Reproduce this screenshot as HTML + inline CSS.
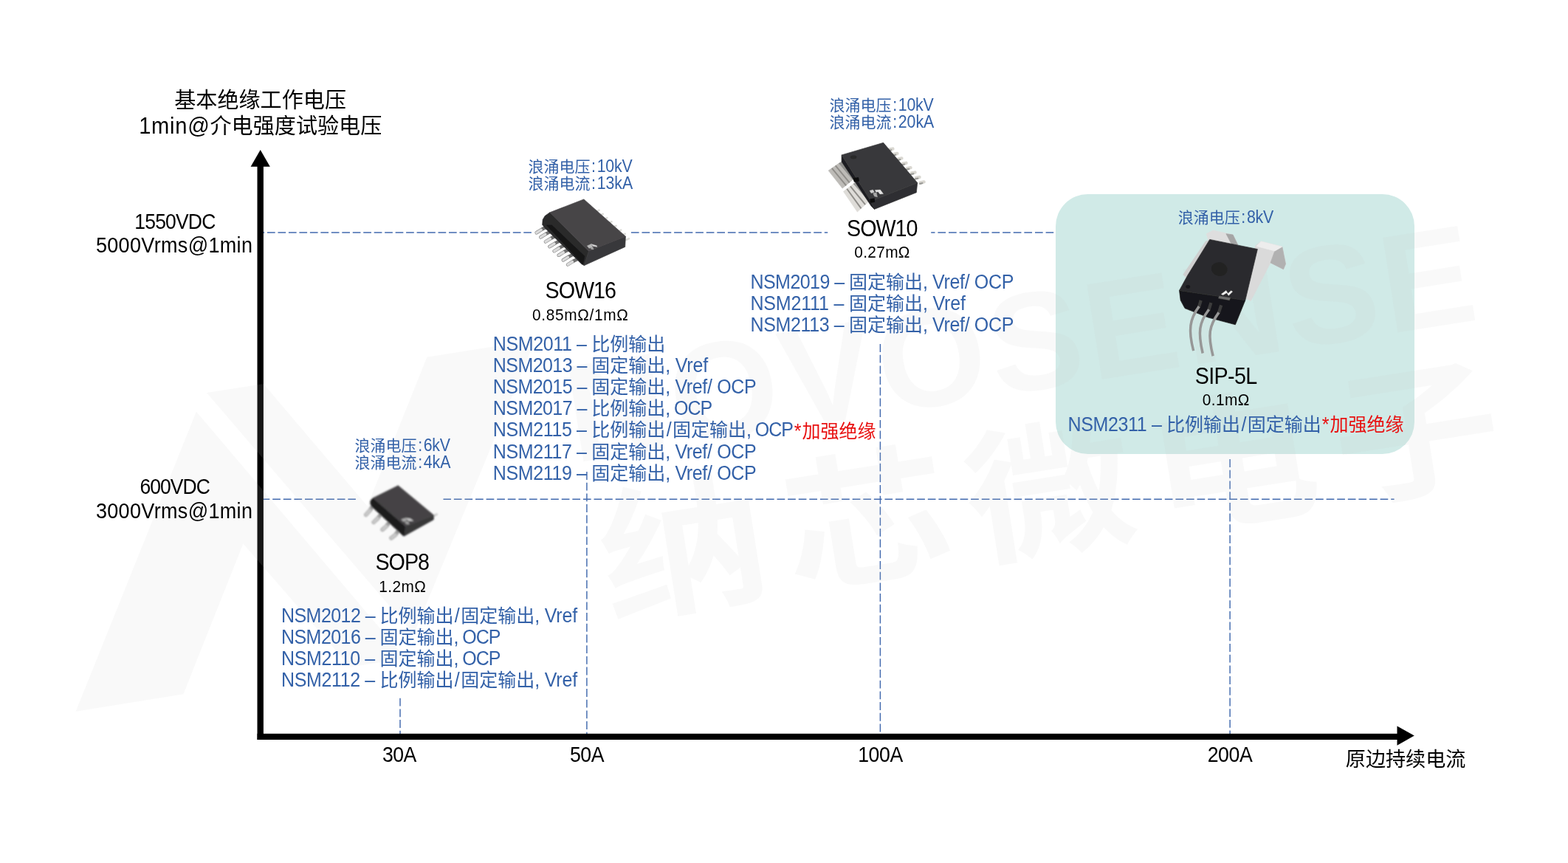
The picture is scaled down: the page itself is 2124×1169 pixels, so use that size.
<!DOCTYPE html>
<html lang="zh-CN">
<head>
<meta charset="utf-8">
<title>NSM 电流传感器产品选型图</title>
<style>
html,body{margin:0;padding:0;background:#fff}
body{width:2124px;height:1169px;font-family:"Liberation Sans", "Noto Sans CJK SC", sans-serif}
.stage{position:relative;width:2124px;height:1169px;overflow:hidden;background:#fff}
.abs{position:absolute;left:0;top:0}
.txt{position:absolute;left:0;top:0;width:2124px;height:1169px;will-change:transform}
.t{position:absolute;white-space:pre;font-family:"Liberation Sans", "Noto Sans CJK SC", sans-serif;font-weight:400}
.t .l{display:inline-block;line-height:1;transform:scaleY(1.087);transform-origin:0 calc(100% - .1535em)}
.t .p{text-align:center}
.t .rs{position:relative;top:1.6px;left:.8px}
.k{color:#000}
.b{color:#3361a8}
.r{color:#e81010}
.wm{position:absolute;left:0;top:0;width:2124px;height:1169px;overflow:hidden;pointer-events:none}
.ws{position:absolute;left:0;top:0;width:2124px;height:1169px;background:rgba(200,200,200,.115)}
.wt{position:absolute;white-space:pre;line-height:0;height:0;color:rgba(200,200,200,.115);font-family:"Liberation Sans", "Noto Sans CJK SC", sans-serif}
.box{position:absolute;left:1430px;top:262.6px;width:485.6px;height:352px;border-radius:43.5px;background:#d0eae7}
</style>
</head>
<body>
<div class="stage">
<div class="box"></div>
<svg class="abs" width="2124" height="1169" viewBox="0 0 2124 1169">
<g stroke="#4169ae" stroke-width="1.45" fill="none">
<line x1="356.5" y1="314.9" x2="719.9" y2="314.9" stroke-dasharray="10.7 3.77" stroke-dashoffset="8.97"/>
<line x1="854.9" y1="314.9" x2="1121.2" y2="314.9" stroke-dasharray="10.7 3.85" stroke-dashoffset="0.00"/>
<line x1="1261.2" y1="314.9" x2="1427.2" y2="314.9" stroke-dasharray="10.7 3.92" stroke-dashoffset="5.42"/>
<line x1="356.5" y1="676.2" x2="481.9" y2="676.2" stroke-dasharray="10.7 3.90" stroke-dashoffset="1.90"/>
<line x1="600.5" y1="676.2" x2="1888.6" y2="676.2" stroke-dasharray="10.7 3.89" stroke-dashoffset="0.24"/>
<g stroke-dasharray="10.9 3.8"><line x1="542.0" y1="945.7" x2="542.0" y2="994.5" stroke-dashoffset="0.00"/><line x1="794.9" y1="639.0" x2="794.9" y2="994.5" stroke-dashoffset="0.00"/><line x1="1192.4" y1="466.0" x2="1192.4" y2="994.5" stroke-dashoffset="0.00"/><line x1="1666.1" y1="622.1" x2="1666.1" y2="994.5" stroke-dashoffset="0.00"/></g>
</g>
<g fill="#000">
<rect x="348.5" y="225" width="8.4" height="777"/>
<rect x="348.5" y="993.8" width="1545" height="8.2"/>
<polygon points="352.7,203.1 365.8,225.8 339.6,225.8"/>
<polygon points="1915.8,996.6 1892.5,983.4 1892.5,1009.8"/>
</g>
</svg>
<div class="wm">
<div class="ws" style="clip-path:polygon(102.6px 963.8px, 265.9px 557.6px, 549.5px 892.0px, 474.5px 903.5px, 329.4px 736.5px, 248.5px 940.2px)"></div>
<div class="ws" style="clip-path:polygon(280.0px 532.0px, 357.0px 520.0px, 497.6px 685.5px, 578.3px 483.8px, 725.0px 460.5px, 560.5px 859.3px)"></div>
<div class="wt en" style="left:778.4px;top:561.8px;font-size:189px;letter-spacing:5.7px;font-weight:700;transform-origin:0 65.5px;transform:rotate(-9.0deg) scaleX(1)">NOVOSENSE</div>
<div class="wt cn" style="left:824.5px;top:764.5px;font-size:196px;letter-spacing:21.2px;font-weight:700;transform-origin:0 68.0px;transform:rotate(-9.0deg) scaleX(1.157)">纳芯微电子</div>
</div>
<svg class="abs" width="2124" height="1169" viewBox="0 0 2124 1169">
<defs><filter id="sb" x="-10%" y="-10%" width="120%" height="120%"><feGaussianBlur stdDeviation="0.6"/></filter><filter id="sb2" x="-10%" y="-10%" width="120%" height="120%"><feGaussianBlur stdDeviation="0.85"/></filter></defs>
<g filter="url(#sb)">
<line x1="807.9" y1="286.4" x2="811.6" y2="284.8" stroke="#dcdcd8" stroke-width="2.6" stroke-linecap="round"/>
<line x1="813.1" y1="291.5" x2="816.7" y2="289.9" stroke="#dcdcd8" stroke-width="2.6" stroke-linecap="round"/>
<line x1="818.7" y1="296.7" x2="822.4" y2="295.1" stroke="#dcdcd8" stroke-width="2.6" stroke-linecap="round"/>
<line x1="824.8" y1="301.9" x2="828.5" y2="300.3" stroke="#dcdcd8" stroke-width="2.6" stroke-linecap="round"/>
<line x1="830.9" y1="307.5" x2="834.6" y2="305.9" stroke="#dcdcd8" stroke-width="2.6" stroke-linecap="round"/>
<line x1="837.5" y1="313.2" x2="841.2" y2="311.6" stroke="#dcdcd8" stroke-width="2.6" stroke-linecap="round"/>
<line x1="843.2" y1="318.4" x2="846.8" y2="316.8" stroke="#dcdcd8" stroke-width="2.6" stroke-linecap="round"/>
<line x1="848.4" y1="324.9" x2="852.0" y2="323.3" stroke="#dcdcd8" stroke-width="2.6" stroke-linecap="round"/>
<polyline points="726.8,315.2 734.5,310.4 745.3,305.0" fill="none" stroke="#6f6f6f" stroke-width="4.6" stroke-linecap="round" stroke-linejoin="round"/>
<line x1="726.8" y1="315.2" x2="733.1" y2="311.3" stroke="#dadada" stroke-width="3.6" stroke-linecap="round"/>
<polyline points="732.4,321.3 740.1,316.5 750.9,311.1" fill="none" stroke="#6f6f6f" stroke-width="4.6" stroke-linecap="round" stroke-linejoin="round"/>
<line x1="732.4" y1="321.3" x2="738.7" y2="317.4" stroke="#dadada" stroke-width="3.6" stroke-linecap="round"/>
<polyline points="739.0,327.4 746.7,322.6 757.5,317.2" fill="none" stroke="#6f6f6f" stroke-width="4.6" stroke-linecap="round" stroke-linejoin="round"/>
<line x1="739.0" y1="327.4" x2="745.3" y2="323.5" stroke="#dadada" stroke-width="3.6" stroke-linecap="round"/>
<polyline points="744.6,334.0 752.4,329.2 763.2,323.8" fill="none" stroke="#6f6f6f" stroke-width="4.6" stroke-linecap="round" stroke-linejoin="round"/>
<line x1="744.6" y1="334.0" x2="750.9" y2="330.1" stroke="#dadada" stroke-width="3.6" stroke-linecap="round"/>
<polyline points="750.8,340.1 758.5,335.3 769.3,329.9" fill="none" stroke="#6f6f6f" stroke-width="4.6" stroke-linecap="round" stroke-linejoin="round"/>
<line x1="750.8" y1="340.1" x2="757.1" y2="336.2" stroke="#dadada" stroke-width="3.6" stroke-linecap="round"/>
<polyline points="756.9,345.7 764.6,340.9 775.4,335.6" fill="none" stroke="#6f6f6f" stroke-width="4.6" stroke-linecap="round" stroke-linejoin="round"/>
<line x1="756.9" y1="345.7" x2="763.2" y2="341.9" stroke="#dadada" stroke-width="3.6" stroke-linecap="round"/>
<polyline points="763.0,352.3 770.7,347.5 781.5,342.2" fill="none" stroke="#6f6f6f" stroke-width="4.6" stroke-linecap="round" stroke-linejoin="round"/>
<line x1="763.0" y1="352.3" x2="769.3" y2="348.5" stroke="#dadada" stroke-width="3.6" stroke-linecap="round"/>
<polyline points="769.1,358.4 776.8,353.6 787.6,348.3" fill="none" stroke="#6f6f6f" stroke-width="4.6" stroke-linecap="round" stroke-linejoin="round"/>
<line x1="769.1" y1="358.4" x2="775.4" y2="354.6" stroke="#dadada" stroke-width="3.6" stroke-linecap="round"/>
<polygon points="744.8,287.8 738.2,292.5 735.2,297.6 734.7,304.2 738.2,308.9 788.1,357.9 791.4,359.6 797.5,340.0" fill="#2a2a2c" stroke="#2a2a2c" stroke-width="0.7" stroke-linejoin="round"/>
<polygon points="740.6,305.2 747.6,305.2 791.9,347.1 789.5,357.9" fill="#151517" stroke="#151517" stroke-width="0.7" stroke-linejoin="round"/>
<polygon points="797.5,340.0 847.4,320.2 846.7,334.4 791.4,359.6" fill="#38383a" stroke="#38383a" stroke-width="0.7" stroke-linejoin="round"/>
<polygon points="790.9,269.9 744.8,287.8 797.5,340.0 847.4,320.2" fill="#464446" stroke="#464446" stroke-width="0.7" stroke-linejoin="round"/>
<polygon points="795.2,332.9 800.8,330.4 802.7,334.4 798.0,336.4" fill="#b9b9b9" stroke="#b9b9b9" stroke-width="0.3" stroke-linejoin="round"/>
<polygon points="800.8,330.4 808.4,332.7 808.8,334.4 803.2,333.4" fill="#d5d5d5" stroke="#d5d5d5" stroke-width="0.3" stroke-linejoin="round"/>
<polygon points="799.4,335.3 803.2,334.8 804.1,338.1 800.8,337.6" fill="#a5a5a5" stroke="#a5a5a5" stroke-width="0.3" stroke-linejoin="round"/>
</g>
<g filter="url(#sb)">
<line x1="1204.7" y1="202.5" x2="1209.4" y2="201.6" stroke="#d9d7d1" stroke-width="4.4" stroke-linecap="round"/>
<line x1="1203.9" y1="204.0" x2="1207.2" y2="203.3" stroke="#9b9b97" stroke-width="2.2" stroke-linecap="round"/>
<line x1="1210.7" y1="208.9" x2="1215.4" y2="208.0" stroke="#d9d7d1" stroke-width="4.4" stroke-linecap="round"/>
<line x1="1210.0" y1="210.4" x2="1213.2" y2="209.7" stroke="#9b9b97" stroke-width="2.2" stroke-linecap="round"/>
<line x1="1216.7" y1="215.3" x2="1221.4" y2="214.4" stroke="#d9d7d1" stroke-width="4.4" stroke-linecap="round"/>
<line x1="1216.0" y1="216.8" x2="1219.3" y2="216.1" stroke="#9b9b97" stroke-width="2.2" stroke-linecap="round"/>
<line x1="1222.8" y1="221.7" x2="1227.5" y2="220.8" stroke="#d9d7d1" stroke-width="4.4" stroke-linecap="round"/>
<line x1="1222.0" y1="223.2" x2="1225.3" y2="222.5" stroke="#9b9b97" stroke-width="2.2" stroke-linecap="round"/>
<line x1="1228.8" y1="228.1" x2="1233.5" y2="227.2" stroke="#d9d7d1" stroke-width="4.4" stroke-linecap="round"/>
<line x1="1228.0" y1="229.6" x2="1231.3" y2="228.9" stroke="#9b9b97" stroke-width="2.2" stroke-linecap="round"/>
<line x1="1234.8" y1="234.5" x2="1239.5" y2="233.6" stroke="#d9d7d1" stroke-width="4.4" stroke-linecap="round"/>
<line x1="1234.0" y1="236.0" x2="1237.3" y2="235.3" stroke="#9b9b97" stroke-width="2.2" stroke-linecap="round"/>
<line x1="1240.8" y1="240.9" x2="1245.5" y2="240.0" stroke="#d9d7d1" stroke-width="4.4" stroke-linecap="round"/>
<line x1="1240.1" y1="242.4" x2="1243.4" y2="241.7" stroke="#9b9b97" stroke-width="2.2" stroke-linecap="round"/>
<line x1="1246.8" y1="247.3" x2="1251.6" y2="246.4" stroke="#d9d7d1" stroke-width="4.4" stroke-linecap="round"/>
<line x1="1246.1" y1="248.8" x2="1249.4" y2="248.1" stroke="#9b9b97" stroke-width="2.2" stroke-linecap="round"/>
<polygon points="1122.2,231.1 1136.4,221.2 1155.2,243.4 1141.1,255.1" fill="#bdbbb7" stroke="#bdbbb7" stroke-width="0.7" stroke-linejoin="round"/>
<polygon points="1142.5,259.4 1156.1,249.0 1177.3,272.5 1161.3,287.1" fill="#dedcd8" stroke="#dedcd8" stroke-width="0.7" stroke-linejoin="round"/>
<line x1="1126.9" y1="227.8" x2="1146.2" y2="251.4" stroke="#8f8d89" stroke-width="1.9" stroke-linecap="butt"/>
<line x1="1131.8" y1="224.3" x2="1150.7" y2="247.3" stroke="#8f8d89" stroke-width="1.9" stroke-linecap="butt"/>
<line x1="1147.2" y1="255.8" x2="1166.5" y2="282.4" stroke="#8f8d89" stroke-width="1.9" stroke-linecap="butt"/>
<line x1="1151.9" y1="252.3" x2="1172.1" y2="277.2" stroke="#8f8d89" stroke-width="1.9" stroke-linecap="butt"/>
<polygon points="1136.4,221.2 1142.5,217.9 1158.9,240.5 1155.2,243.4" fill="#8d8d8b" stroke="#8d8d8b" stroke-width="0.7" stroke-linejoin="round"/>
<polygon points="1156.1,249.0 1161.3,245.2 1180.6,269.7 1177.3,272.5" fill="#989896" stroke="#989896" stroke-width="0.7" stroke-linejoin="round"/>
<polygon points="1140.1,209.9 1140.1,218.9 1180.1,279.1 1184.4,283.4 1179.6,272.5" fill="#1e1e20" stroke="#1e1e20" stroke-width="0.7" stroke-linejoin="round"/>
<polygon points="1179.6,272.5 1242.7,247.6 1241.3,260.8 1184.4,283.4" fill="#2f2f31" stroke="#2f2f31" stroke-width="0.7" stroke-linejoin="round"/>
<polygon points="1140.1,209.9 1196.6,193.3 1242.7,247.6 1179.6,272.5" fill="#39393b" stroke="#39393b" stroke-width="0.7" stroke-linejoin="round"/>
<polygon points="1156.1,241.5 1162.7,240.5 1163.6,245.2 1157.1,246.2" fill="#0c0c0e" stroke="#0c0c0e" stroke-width="0.7" stroke-linejoin="round"/>
<polygon points="1178.7,269.7 1184.4,268.8 1184.8,273.5 1179.6,274.4" fill="#0c0c0e" stroke="#0c0c0e" stroke-width="0.7" stroke-linejoin="round"/>
<ellipse cx="1156.1" cy="212.8" rx="4.4" ry="2.6" fill="#2a2a2c"/>
<polygon points="1178.0,258.2 1182.5,257.0 1184.4,260.3 1180.1,261.7" fill="#cfcfcf" stroke="#cfcfcf" stroke-width="0.3" stroke-linejoin="round"/>
<polygon points="1185.3,257.5 1192.4,257.0 1196.6,262.6 1191.9,262.9 1189.5,259.8 1186.7,260.3" fill="#e4e4e4" stroke="#e4e4e4" stroke-width="0.3" stroke-linejoin="round"/>
<polygon points="1182.5,261.7 1187.2,260.8 1188.6,266.9 1184.4,265.9" fill="#a9a9a9" stroke="#a9a9a9" stroke-width="0.3" stroke-linejoin="round"/>
</g>
<g filter="url(#sb2)">
<line x1="587.4" y1="698.9" x2="591.6" y2="696.7" stroke="#cfcfcf" stroke-width="3" stroke-linecap="round"/>
<polyline points="505.8,683.9 501.2,691.2 495.8,697.3" fill="none" stroke="#9c9c9c" stroke-width="5.4" stroke-linecap="round" stroke-linejoin="round"/>
<line x1="501.2" y1="691.2" x2="495.8" y2="697.3" stroke="#cbcbcb" stroke-width="3.6" stroke-linecap="round"/>
<polyline points="517.3,694.7 511.9,702.0 506.2,707.4" fill="none" stroke="#9c9c9c" stroke-width="5.4" stroke-linecap="round" stroke-linejoin="round"/>
<line x1="511.9" y1="702.0" x2="506.2" y2="707.4" stroke="#cbcbcb" stroke-width="3.6" stroke-linecap="round"/>
<polyline points="528.9,705.4 523.5,712.7 518.1,717.4" fill="none" stroke="#9c9c9c" stroke-width="5.4" stroke-linecap="round" stroke-linejoin="round"/>
<line x1="523.5" y1="712.7" x2="518.1" y2="717.4" stroke="#cbcbcb" stroke-width="3.6" stroke-linecap="round"/>
<polyline points="541.2,716.2 535.8,724.3 530.0,728.9" fill="none" stroke="#9c9c9c" stroke-width="5.4" stroke-linecap="round" stroke-linejoin="round"/>
<line x1="535.8" y1="724.3" x2="530.0" y2="728.9" stroke="#cbcbcb" stroke-width="3.6" stroke-linecap="round"/>
<polygon points="505.4,674.6 502.3,677.7 501.6,681.2 503.1,685.8 546.2,725.8 548.1,725.8 549.3,712.7" fill="#1d1d1f" stroke="#1d1d1f" stroke-width="0.7" stroke-linejoin="round"/>
<polygon points="549.3,712.7 587.8,698.1 587.2,703.9 548.1,725.8" fill="#373739" stroke="#373739" stroke-width="0.7" stroke-linejoin="round"/>
<polygon points="539.3,657.7 505.4,674.6 549.3,712.7 587.8,698.1" fill="#454345" stroke="#454345" stroke-width="0.7" stroke-linejoin="round"/>
<polygon points="543.5,703.4 549.3,701.8 551.2,705.0 546.2,706.6" fill="#a9a9a9" stroke="#a9a9a9" stroke-width="0.3" stroke-linejoin="round"/>
<polygon points="549.3,701.8 555.8,702.4 560.1,705.4 553.9,705.8" fill="#c9c9c9" stroke="#c9c9c9" stroke-width="0.3" stroke-linejoin="round"/>
<polygon points="548.1,706.6 553.1,706.2 554.3,710.3 550.1,709.7" fill="#9f9f9f" stroke="#9f9f9f" stroke-width="0.3" stroke-linejoin="round"/>
</g>
<g filter="url(#sb)">
<polygon points="1634.2,316.7 1643.4,312.0 1670.1,318.0 1676.8,331.7 1636.7,325.0" fill="#dedede" stroke="#dedede" stroke-width="0.7" stroke-linejoin="round"/>
<polygon points="1660.9,316.7 1670.1,318.0 1676.8,331.7 1668.4,330.9" fill="#a5a5a5" stroke="#a5a5a5" stroke-width="0.7" stroke-linejoin="round"/>
<polygon points="1602.7,372.1 1633.1,327.0 1639.2,324.7 1641.7,331.7 1610.0,378.4" fill="#cfcfcf" stroke="#cfcfcf" stroke-width="0.7" stroke-linejoin="round"/>
<polygon points="1700.9,332.5 1708.4,327.0 1736.8,334.2 1741.5,357.5 1738.5,364.7 1721.0,355.9 1694.3,407.6 1684.3,402.6" fill="#dadada" stroke="#dadada" stroke-width="0.7" stroke-linejoin="round"/>
<polygon points="1726.8,340.0 1736.8,334.2 1741.5,357.5 1738.5,364.7 1721.0,355.9" fill="#b1b1b1" stroke="#b1b1b1" stroke-width="0.7" stroke-linejoin="round"/>
<polygon points="1708.4,327.0 1736.8,334.2 1726.8,340.0 1701.8,333.4" fill="#ededed" stroke="#ededed" stroke-width="0.7" stroke-linejoin="round"/>
<polygon points="1597.5,393.4 1686.8,406.8 1673.4,439.8 1636.7,430.1 1605.0,417.6 1599.2,406.8" fill="#18181a" stroke="#18181a" stroke-width="0.7" stroke-linejoin="round"/>
<polygon points="1638.7,324.4 1703.4,337.5 1686.8,406.8 1597.5,393.4 1608.7,373.1" fill="#2c2c2e" stroke="#2c2c2e" stroke-width="0.7" stroke-linejoin="round"/>
<line x1="1626.7" y1="406.8" x2="1623.7" y2="416.8" stroke="#3c3c3e" stroke-width="4.2" stroke-linecap="butt"/>
<line x1="1640.4" y1="410.1" x2="1637.1" y2="420.9" stroke="#3c3c3e" stroke-width="4.2" stroke-linecap="butt"/>
<line x1="1654.2" y1="413.4" x2="1650.4" y2="425.1" stroke="#3c3c3e" stroke-width="4.2" stroke-linecap="butt"/>
<path d="M1624.2,415.1 C1611.7,431.8 1609.2,446.8 1616.7,475.1" fill="none" stroke="#979797" stroke-width="3.5" stroke-linecap="butt"/>
<path d="M1637.6,419.3 C1624.2,436.8 1622.5,450.1 1629.2,478.5" fill="none" stroke="#979797" stroke-width="3.5" stroke-linecap="butt"/>
<path d="M1650.9,423.4 C1637.6,441.8 1635.9,453.5 1643.1,482.2" fill="none" stroke="#979797" stroke-width="3.5" stroke-linecap="butt"/>
<ellipse cx="1651.7" cy="364.6" rx="11" ry="9.4" fill="#222224" transform="rotate(10 1651.7 364.6)"/>
<ellipse cx="1609.2" cy="388.4" rx="3" ry="2.4" fill="#19191b"/>
<polygon points="1654.2,398.4 1660.9,393.4 1663.4,397.6 1667.6,393.7 1669.7,395.1 1664.2,400.4 1661.7,396.7 1656.7,399.7" fill="#efefef" stroke="#efefef" stroke-width="0.3" stroke-linejoin="round"/>
<polygon points="1651.7,400.9 1666.7,403.4 1665.4,406.8 1650.4,404.1" fill="#6a6a6a" stroke="#6a6a6a" stroke-width="0.3" stroke-linejoin="round"/>
</g>
</svg>
<div class="txt">
<div class="t k" style="left:236.23px;top:119px;font-size:29.1px;line-height:35px">基本绝缘工作电压</div>
<div class="t k" style="left:188.15px;top:154px;font-size:29.1px;line-height:35px"><span class="l" style="font-size:29.1px;letter-spacing:0.750px">1min@</span>介电强度试验电压</div>
<div class="t k" style="left:182.29px;top:285px;font-size:26.5px;line-height:32px"><span class="l" style="font-size:26.5px;letter-spacing:-0.812px">1550VDC</span></div>
<div class="t k" style="left:129.89px;top:317px;font-size:27px;line-height:32px"><span class="l" style="font-size:27px;letter-spacing:0.341px">5000Vrms@1min</span></div>
<div class="t k" style="left:189.45px;top:644px;font-size:26.5px;line-height:32px"><span class="l" style="font-size:26.5px;letter-spacing:-0.945px">600VDC</span></div>
<div class="t k" style="left:129.89px;top:677px;font-size:27px;line-height:32px"><span class="l" style="font-size:27px;letter-spacing:0.341px">3000Vrms@1min</span></div>
<div class="t b" style="left:715.40px;top:213px;font-size:21px;line-height:25px">浪涌电压<span class="l p" style="font-size:21.33px;width:9.3px">:</span><span class="l" style="font-size:21.33px;letter-spacing:-0.227px">10kV</span></div>
<div class="t b" style="left:715.40px;top:236px;font-size:21px;line-height:25px">浪涌电流<span class="l p" style="font-size:21.33px;width:9.3px">:</span><span class="l" style="font-size:21.33px;letter-spacing:-0.051px">13kA</span></div>
<div class="t b" style="left:1123.50px;top:130px;font-size:21px;line-height:25px">浪涌电压<span class="l p" style="font-size:21.33px;width:9.3px">:</span><span class="l" style="font-size:21.33px;letter-spacing:-0.227px">10kV</span></div>
<div class="t b" style="left:1123.50px;top:153px;font-size:21px;line-height:25px">浪涌电流<span class="l p" style="font-size:21.33px;width:9.3px">:</span><span class="l" style="font-size:21.33px;letter-spacing:-0.051px">20kA</span></div>
<div class="t b" style="left:480.50px;top:591px;font-size:21px;line-height:25px">浪涌电压<span class="l p" style="font-size:21.33px;width:9.3px">:</span><span class="l" style="font-size:21.33px;letter-spacing:-0.297px">6kV</span></div>
<div class="t b" style="left:480.50px;top:614px;font-size:21px;line-height:25px">浪涌电流<span class="l p" style="font-size:21.33px;width:9.3px">:</span><span class="l" style="font-size:21.33px;letter-spacing:-0.062px">4kA</span></div>
<div class="t b" style="left:1595.70px;top:282px;font-size:21px;line-height:25px">浪涌电压<span class="l p" style="font-size:21.33px;width:9.3px">:</span><span class="l" style="font-size:21.33px;letter-spacing:-0.297px">8kV</span></div>
<div class="t k" style="left:738.59px;top:377px;font-size:28.7px;line-height:34px"><span class="l" style="font-size:28.7px;letter-spacing:-1.044px">SOW16</span></div>
<div class="t k" style="left:721.07px;top:414px;font-size:20.85px;line-height:25px"><span class="l" style="font-size:20.85px;letter-spacing:0.661px">0.85mΩ/1mΩ</span></div>
<div class="t k" style="left:1147.09px;top:293px;font-size:28.7px;line-height:34px"><span class="l" style="font-size:28.7px;letter-spacing:-1.044px">SOW10</span></div>
<div class="t k" style="left:1157.20px;top:329px;font-size:20.85px;line-height:25px"><span class="l" style="font-size:20.85px;letter-spacing:0.349px">0.27mΩ</span></div>
<div class="t k" style="left:1618.67px;top:493px;font-size:28.7px;line-height:34px"><span class="l" style="font-size:28.7px;letter-spacing:-0.607px">SIP-5L</span></div>
<div class="t k" style="left:1628.78px;top:529px;font-size:20.85px;line-height:25px"><span class="l" style="font-size:20.85px;letter-spacing:0.425px">0.1mΩ</span></div>
<div class="t k" style="left:508.47px;top:745px;font-size:28.7px;line-height:34px"><span class="l" style="font-size:28.7px;letter-spacing:-1.020px">SOP8</span></div>
<div class="t k" style="left:513.18px;top:782px;font-size:20.85px;line-height:25px"><span class="l" style="font-size:20.85px;letter-spacing:0.425px">1.2mΩ</span></div>
<div class="t b" style="left:667.80px;top:451px;font-size:25px;line-height:30px"><span class="l" style="font-size:25px;letter-spacing:-0.372px">NSM2011 – </span>比例输出</div>
<div class="t b" style="left:667.80px;top:480px;font-size:25px;line-height:30px"><span class="l" style="font-size:25px;letter-spacing:-0.558px">NSM2013 – </span>固定输出<span class="l" style="font-size:25px;letter-spacing:-0.174px">, Vref</span></div>
<div class="t b" style="left:667.80px;top:509px;font-size:25px;line-height:30px"><span class="l" style="font-size:25px;letter-spacing:-0.558px">NSM2015 – </span>固定输出<span class="l" style="font-size:25px;letter-spacing:-0.344px">, Vref/ OCP</span></div>
<div class="t b" style="left:667.80px;top:538px;font-size:25px;line-height:30px"><span class="l" style="font-size:25px;letter-spacing:-0.558px">NSM2017 – </span>比例输出<span class="l" style="font-size:25px;letter-spacing:-1.038px">, OCP</span></div>
<div class="t b" style="left:667.80px;top:567px;font-size:25px;line-height:30px"><span class="l" style="font-size:25px;letter-spacing:-0.372px">NSM2115 – </span>比例输出<span class="l" style="font-size:25px;padding:0 1.43px">/</span>固定输出<span class="l" style="font-size:25px;letter-spacing:-1.038px">, OCP</span><span class="l r rs" style="font-size:25px;padding:0 0.98px">*</span><span class="r rs">加强绝缘</span></div>
<div class="t b" style="left:667.80px;top:597px;font-size:25px;line-height:30px"><span class="l" style="font-size:25px;letter-spacing:-0.372px">NSM2117 – </span>固定输出<span class="l" style="font-size:25px;letter-spacing:-0.344px">, Vref/ OCP</span></div>
<div class="t b" style="left:667.80px;top:626px;font-size:25px;line-height:30px"><span class="l" style="font-size:25px;letter-spacing:-0.372px">NSM2119 – </span>固定输出<span class="l" style="font-size:25px;letter-spacing:-0.344px">, Vref/ OCP</span></div>
<div class="t b" style="left:1016.50px;top:367px;font-size:25px;line-height:30px"><span class="l" style="font-size:25px;letter-spacing:-0.558px">NSM2019 – </span>固定输出<span class="l" style="font-size:25px;letter-spacing:-0.344px">, Vref/ OCP</span></div>
<div class="t b" style="left:1016.50px;top:396px;font-size:25px;line-height:30px"><span class="l" style="font-size:25px;letter-spacing:-0.188px">NSM2111 – </span>固定输出<span class="l" style="font-size:25px;letter-spacing:-0.174px">, Vref</span></div>
<div class="t b" style="left:1016.50px;top:425px;font-size:25px;line-height:30px"><span class="l" style="font-size:25px;letter-spacing:-0.372px">NSM2113 – </span>固定输出<span class="l" style="font-size:25px;letter-spacing:-0.344px">, Vref/ OCP</span></div>
<div class="t b" style="left:381.00px;top:819px;font-size:25px;line-height:30px"><span class="l" style="font-size:25px;letter-spacing:-0.558px">NSM2012 – </span>比例输出<span class="l" style="font-size:25px;padding:0 1.43px">/</span>固定输出<span class="l" style="font-size:25px;letter-spacing:-0.174px">, Vref</span></div>
<div class="t b" style="left:381.00px;top:848px;font-size:25px;line-height:30px"><span class="l" style="font-size:25px;letter-spacing:-0.558px">NSM2016 – </span>固定输出<span class="l" style="font-size:25px;letter-spacing:-1.038px">, OCP</span></div>
<div class="t b" style="left:381.00px;top:877px;font-size:25px;line-height:30px"><span class="l" style="font-size:25px;letter-spacing:-0.372px">NSM2110 – </span>固定输出<span class="l" style="font-size:25px;letter-spacing:-1.038px">, OCP</span></div>
<div class="t b" style="left:381.00px;top:906px;font-size:25px;line-height:30px"><span class="l" style="font-size:25px;letter-spacing:-0.372px">NSM2112 – </span>比例输出<span class="l" style="font-size:25px;padding:0 1.43px">/</span>固定输出<span class="l" style="font-size:25px;letter-spacing:-0.174px">, Vref</span></div>
<div class="t b" style="left:1446.60px;top:560px;font-size:25px;line-height:30px"><span class="l" style="font-size:25px;letter-spacing:-0.372px">NSM2311 – </span>比例输出<span class="l" style="font-size:25px;padding:0 1.43px">/</span>固定输出<span class="l r" style="font-size:25px;padding:0 0.98px">*</span><span class="r">加强绝缘</span></div>
<div class="t k" style="left:517.90px;top:1007px;font-size:26.67px;line-height:32px"><span class="l" style="font-size:26.67px;letter-spacing:-0.547px">30A</span></div>
<div class="t k" style="left:772.10px;top:1007px;font-size:26.67px;line-height:32px"><span class="l" style="font-size:26.67px;letter-spacing:-0.547px">50A</span></div>
<div class="t k" style="left:1162.20px;top:1007px;font-size:26.67px;line-height:32px"><span class="l" style="font-size:26.67px;letter-spacing:-0.418px">100A</span></div>
<div class="t k" style="left:1635.70px;top:1007px;font-size:26.67px;line-height:32px"><span class="l" style="font-size:26.67px;letter-spacing:-0.418px">200A</span></div>
<div class="t k" style="left:1822.80px;top:1012px;font-size:27.1px;line-height:33px">原边持续电流</div>
</div>
</div>
</body>
</html>
